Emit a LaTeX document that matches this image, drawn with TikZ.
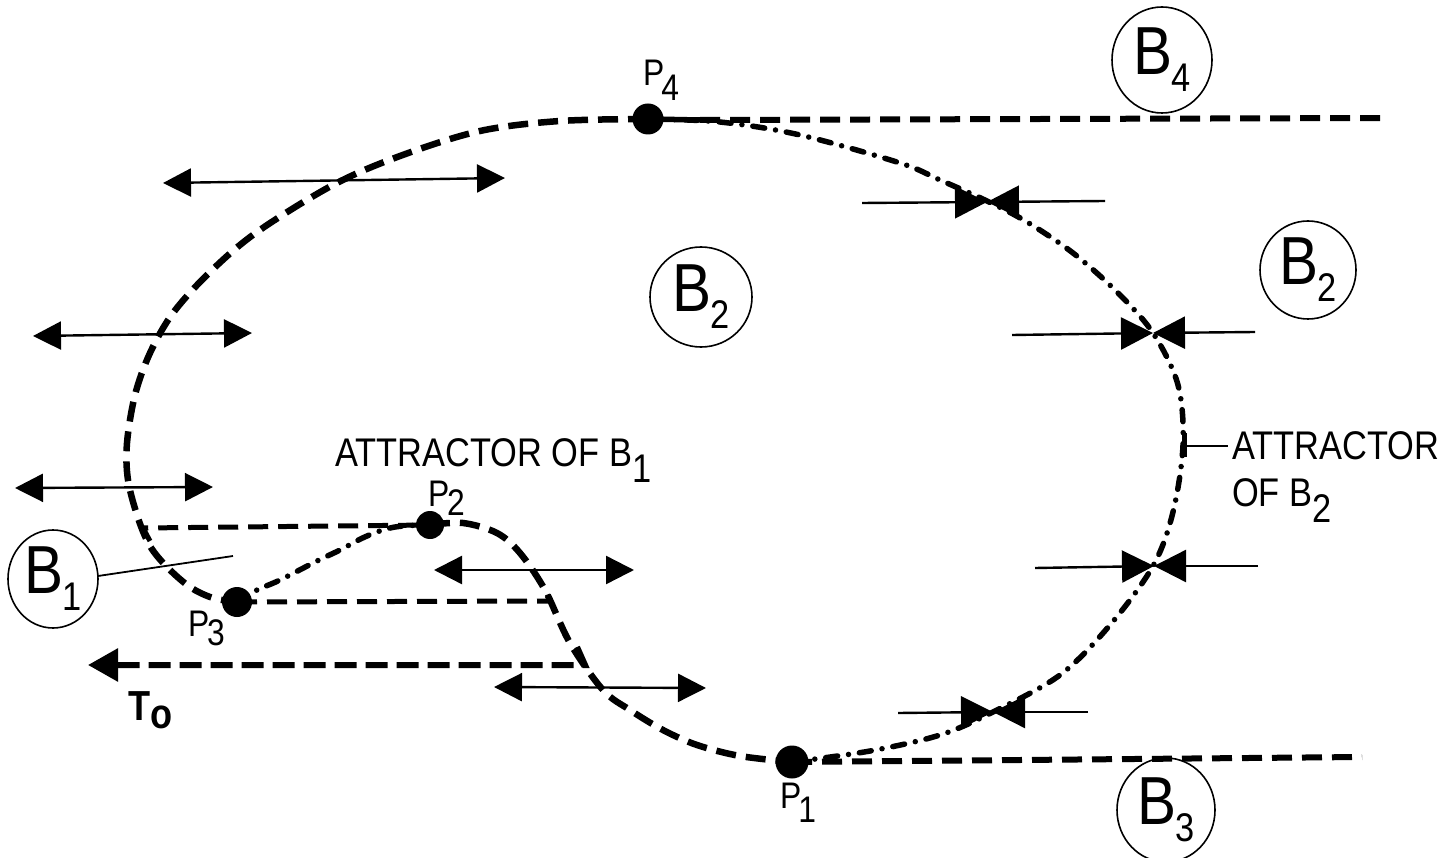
\documentclass[tikz,border=0pt]{standalone}
\usepackage{fontspec}
\setmainfont{Liberation Sans}
\newfontfamily\labfont[FakeStretch=0.86]{Liberation Sans}
\usetikzlibrary{arrows.meta,shapes.geometric}
\newcommand{\Blabel}[2]{{\labfont\fontsize{68}{68}\selectfont #1\kern-0.02em\raisebox{-0.25em}{\fontsize{40}{40}\selectfont #2}}}
\newcommand{\Plabel}[2]{{\labfont\fontsize{37}{37}\selectfont #1\kern-0.08em\raisebox{-0.4em}{#2}}}
\newcommand{\attsub}[1]{\raisebox{-0.42em}{#1}}
\begin{document}
\begin{tikzpicture}[x=1pt,y=-1pt,
  bigdash/.style={line width=6.5pt, dash pattern=on 20pt off 10pt},
  hdash/.style={line width=6pt, dash pattern=on 20pt off 10pt},
  ddot/.style={line width=5.5pt, line cap=round, dash pattern=on 12pt off 11pt on 0pt off 11pt},
  dotnode/.style={circle, fill=black, minimum size=31pt, inner sep=0pt},
  bcirc/.style={draw, ellipse, line width=1.6pt, inner sep=0pt, minimum width=100pt, minimum height=104pt},
  dbl/.style={line width=2.4pt, {Triangle[length=28pt,width=28pt]}-{Triangle[length=28pt,width=28pt]}},
  conv/.style={line width=2.4pt, -{Triangle[length=32pt,width=32pt]}},
  thinline/.style={line width=1.8pt},
  lab/.style={inner sep=0pt}
]
\useasboundingbox (0,0) rectangle (1445,858);

% points
\node[dotnode] (P4) at (648,119) {};
\node[dotnode, minimum size=33pt] (P1) at (792,762) {};
\node[dotnode, minimum size=28pt] (P2) at (430,525) {};
\node[dotnode, minimum size=30pt] (P3) at (237,602) {};

% point labels
\node[lab, anchor=base west] (lP4) at (643,86) {\Plabel{P}{4}};
\node[lab, anchor=base west] (lP2) at (428,506) {\labfont\fontsize{37}{37}\selectfont P\kern-0.06em\raisebox{-0.25em}{2}};
\node[lab, anchor=base west] (lP3) at (188,636) {\labfont\fontsize{37}{37}\selectfont P\kern-0.06em\raisebox{-0.25em}{3}};
\node[lab, anchor=base west] (lP1) at (780,808) {\Plabel{P}{1}};

% basin labels
\node[bcirc, minimum width=100pt, minimum height=106pt] (B4) at (1162,60) {\Blabel{B}{4}};
\node[bcirc, minimum width=96pt, minimum height=98pt] (B2r) at (1308,270) {\Blabel{B}{2}};
\node[bcirc, minimum width=102pt, minimum height=100pt] (B2m) at (701,297) {\Blabel{B}{2}};
\node[bcirc, minimum width=90pt, minimum height=98pt] (B1) at (53,579) {\Blabel{B}{1}};
\node[bcirc, minimum width=98pt, minimum height=104pt] (B3) at (1166,810) {\Blabel{B}{3}};

% attractor texts
\node[lab, anchor=base west] (att1) at (335,466) {\labfont\fontsize{40}{40}\selectfont ATTRACTOR OF B\attsub{1}};
\node[lab, anchor=base west] (att2) at (1232,459) {\labfont\fontsize{40}{40}\selectfont ATTRACTOR};
\node[lab, anchor=base west] (att3) at (1232,506) {\labfont\fontsize{40}{40}\selectfont OF B\attsub{2}};
\node[lab, anchor=base west] (T0) at (128,720) {\labfont\bfseries\fontsize{42}{42}\selectfont T\raisebox{-0.2em}{o}};

% main closed curve
\draw[bigdash] plot[smooth, tension=0.55] coordinates {(P4.center) (560,121) (480,131) (400,156) (333,185) (257,232) (210,272) (173,313) (150,353) (135,395) (127,443) (128,480) (138,518) (150,546) (167,567) (190,587) (213,598) (P3.center)};
\draw[ddot] plot[smooth, tension=0.6] coordinates {(P3.center) (257,590) (280,580) (317,561) (340,550) (367,536) (395,527) (P2.center)};
\draw[bigdash] plot[smooth, tension=0.55] coordinates {(P2.center) (463,523) (497,533) (520,553) (545,590) (570,643) (603,690) (630,710) (663,730) (697,745) (740,756) (P1.center)};
\draw[ddot] plot[smooth, tension=0.55] coordinates {(P1.center) (870,751) (940,735) (993,712) (1060,675) (1110,625) (1153,566) (1173,512) (1183,445) (1178,385) (1153,333) (1117,292) (1073,253) (1027,222) (987,201) (940,180) (900,163) (800,135) (720,122) (P4.center)};

% horizontal separatrices
\coordinate (E4) at (1383,118);
\coordinate (E3) at (1362,757);
\coordinate (S4) at (700,120);
\draw[line width=5.5pt] (P4.center) -- (S4);
\draw[hdash] (S4) -- (E4);
\draw[hdash] (P1.center) -- (E3);

% dashed trajectories
\coordinate (R1a) at (150,541);
\coordinate (R1b) at (143,528);
\draw[hdash, line width=5pt] (R1a) -- (R1b) -- (P2.center);
\coordinate (R2a) at (550,601);
\coordinate (R2b) at (545,588);
\draw[hdash, line width=5pt] (P3.center) -- (R2a) -- (R2b);
\coordinate (R3a) at (585,665);
\coordinate (R3b) at (577,647);
\coordinate (R3c) at (88,665);
\coordinate (R3d) at (114,665);
\coordinate (R3e) at (120,665);
\draw[line width=6pt, dash pattern=on 22pt off 9pt] (R3b) -- (R3a) -- (R3d);
\draw[line width=6pt, -{Triangle[length=30pt,width=32pt]}] (R3e) -- (R3c);

% B1 leader
\coordinate (L0) at (98,576);
\coordinate (L1) at (233,556);
\draw[thinline] (L0) -- (L1);

% attractor of B2 leader
\coordinate (K1) at (1184,433);
\coordinate (K2) at (1184,457);
\coordinate (K0) at (1184,446);
\coordinate (K3) at (1228,446);
\draw[line width=5pt] (K1) -- (K2);
\draw[line width=2pt] (K0) -- (K3);

% double arrows
\coordinate (a1l) at (163,183); \coordinate (a1r) at (505,178);
\coordinate (a2l) at (33,336);  \coordinate (a2r) at (252,333);
\coordinate (a3l) at (15,488);  \coordinate (a3r) at (213,487);
\coordinate (a4l) at (434,570); \coordinate (a4r) at (634,570);
\coordinate (a5l) at (494,687); \coordinate (a5r) at (706,688);
\draw[dbl] (a1l) -- (a1r);
\draw[dbl] (a2l) -- (a2r);
\draw[dbl] (a3l) -- (a3r);
\draw[dbl] (a4l) -- (a4r);
\draw[dbl] (a5l) -- (a5r);

% converging arrows
\coordinate (c1) at (987,202); \coordinate (c1l) at (862,203); \coordinate (c1r) at (1105,201);
\coordinate (c2) at (1153,333); \coordinate (c2l) at (1012,335); \coordinate (c2r) at (1255,332);
\coordinate (c3) at (1154,566); \coordinate (c3l) at (1035,568); \coordinate (c3r) at (1258,566);
\coordinate (c4) at (993,712); \coordinate (c4l) at (898,713); \coordinate (c4r) at (1088,712);
\draw[conv] (c1l) -- (c1); \draw[conv] (c1r) -- (c1);
\draw[conv] (c2l) -- (c2); \draw[conv] (c2r) -- (c2);
\draw[conv] (c3l) -- (c3); \draw[conv] (c3r) -- (c3);
\draw[conv] (c4l) -- (c4); \draw[conv] (c4r) -- (c4);
\end{tikzpicture}
\end{document}
